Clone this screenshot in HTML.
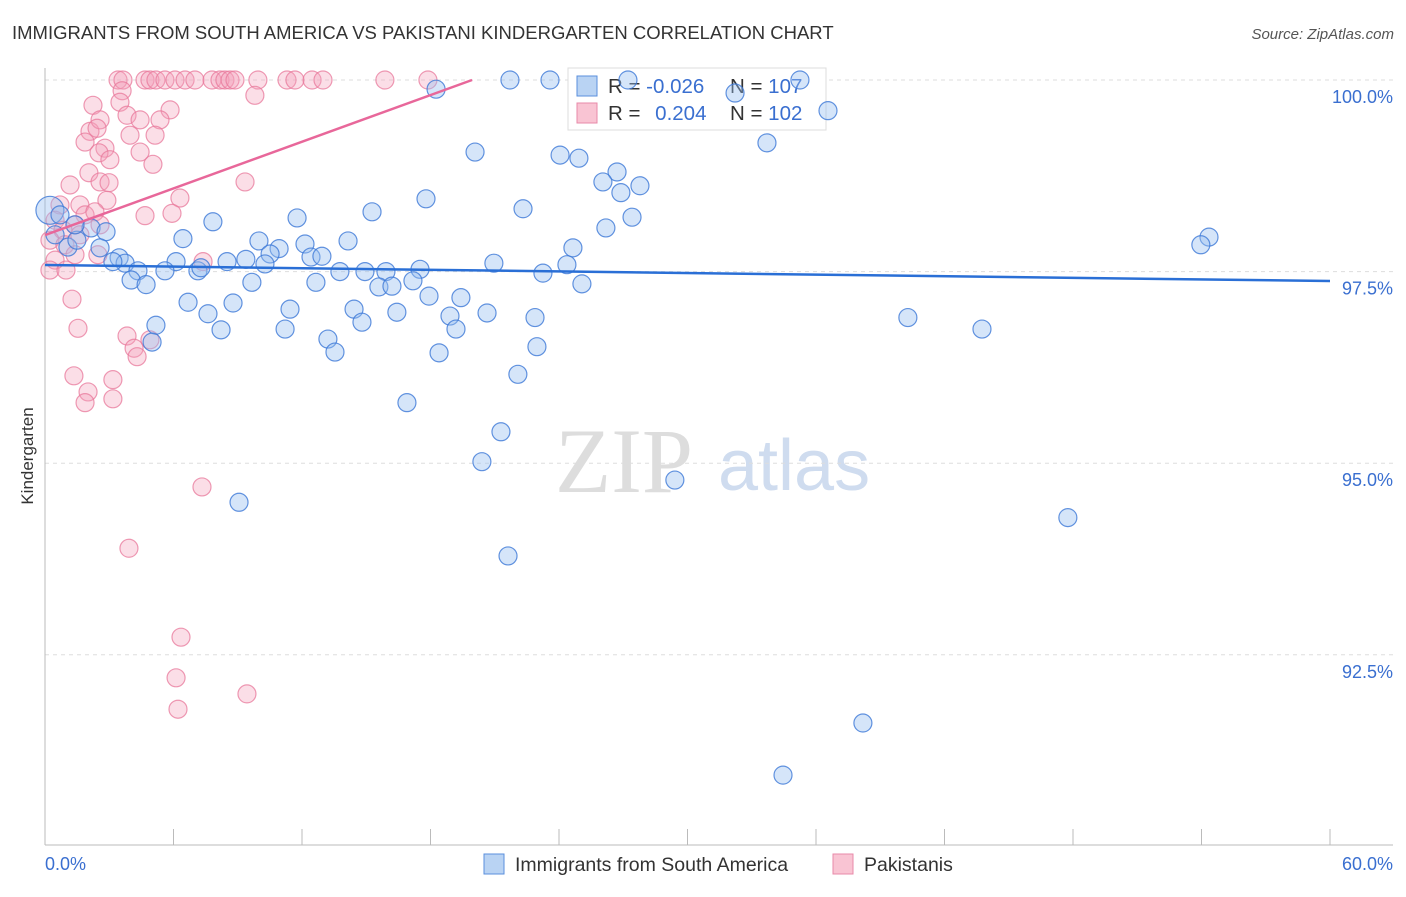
<!DOCTYPE html>
<html><head><meta charset="utf-8"><style>
body{margin:0;background:#fff;font-family:"Liberation Sans",sans-serif;}
#c{position:relative;width:1406px;height:892px;}
</style></head><body>
<div id="c">
<svg id="s" width="1406" height="892" xmlns="http://www.w3.org/2000/svg">
<text x="12" y="39" font-size="18.5" fill="#333">IMMIGRANTS FROM SOUTH AMERICA VS PAKISTANI KINDERGARTEN CORRELATION CHART</text>
<text x="1394" y="39" font-size="15" fill="#555" font-style="italic" text-anchor="end">Source: ZipAtlas.com</text>
<text x="555" y="492" font-size="92" fill="#ddd" font-family="Liberation Serif">ZIP</text>
<text x="718" y="490" font-size="72" fill="#cfdcef">atlas</text>
<g id="grid"></g><g id="axes"></g>
<g>
<rect x="568" y="68" width="258" height="62" fill="#fff" stroke="#ddd"/>
<rect x="577" y="76" width="20" height="20" fill="#b9d3f3" stroke="#5a8fdc"/>
<rect x="577" y="103" width="20" height="20" fill="#f9c4d3" stroke="#e88aa8"/>
<text x="608" y="93" font-size="20.5" fill="#333">R = <tspan fill="#3a6fd0">-0.026</tspan></text>
<text x="730" y="93" font-size="20.5" fill="#333">N = <tspan fill="#3a6fd0">107</tspan></text>
<text x="608" y="120" font-size="20.5" fill="#333">R = <tspan fill="#3a6fd0" dx="9">0.204</tspan></text>
<text x="730" y="120" font-size="20.5" fill="#333">N = <tspan fill="#3a6fd0">102</tspan></text>
</g>
<g id="pts"></g><g id="trend"></g>
<text transform="translate(33,456) rotate(-90)" font-size="17" fill="#333" text-anchor="middle">Kindergarten</text>
<g>
<rect x="484" y="854" width="20" height="20" fill="#b9d3f3" stroke="#5a8fdc"/>
<text x="515" y="871" font-size="19.5" fill="#333">Immigrants from South America</text>
<rect x="833" y="854" width="20" height="20" fill="#f9c4d3" stroke="#e88aa8"/>
<text x="864" y="871" font-size="19.5" fill="#333">Pakistanis</text>
</g>
</svg></div>
<script>
const yTicks=[100,97.5,95,92.5];
const yTickLabels=["100.0%","97.5%","95.0%","92.5%"];
const xTickLabels=["0.0%","60.0%"];
const blueX=[21.71,23.58,27.22,35.25,18.26,32.22,36.56,20.08,24.05,24.93,33.71,26.71,26.05,26.89,27.78,17.79,22.32,15.27,11.77,27.41,7.84,26.19,54.35,53.97,2.15,2.85,6.44,9.99,14.15,12.14,10.93,24.65,2.57,1.07,1.49,3.46,3.74,3.17,6.12,8.50,9.38,10.51,10.27,12.42,12.93,20.96,24.37,4.34,5.60,7.14,7.28,13.77,14.94,15.92,17.51,23.25,4.02,4.72,9.66,12.65,15.59,16.20,17.18,25.07,6.68,8.78,11.44,17.93,19.42,14.43,7.61,16.43,20.64,22.88,14.80,18.91,5.18,8.22,11.21,19.19,40.29,43.75,13.21,5.00,13.54,22.97,18.40,22.08,16.90,21.29,20.40,29.41,9.06,47.76,21.62,38.19,34.46,0.23,0.70,1.40,0.47];
const blueY=[100,100,100,100,99.88,99.83,99.60,99.06,99.02,98.98,99.18,98.80,98.67,98.53,98.62,98.45,98.32,98.28,98.20,98.21,98.15,98.07,97.95,97.85,98.07,98.02,97.93,97.90,97.90,97.86,97.80,97.81,97.81,97.82,97.91,97.68,97.61,97.63,97.63,97.63,97.66,97.73,97.60,97.69,97.70,97.61,97.59,97.51,97.51,97.51,97.55,97.50,97.50,97.50,97.53,97.48,97.39,97.33,97.36,97.36,97.30,97.31,97.38,97.34,97.10,97.09,97.01,97.18,97.16,97.01,96.95,96.97,96.96,96.90,96.84,96.92,96.80,96.74,96.75,96.75,96.90,96.75,96.62,96.58,96.45,96.52,96.44,96.16,95.79,95.41,95.02,94.78,94.49,94.29,93.79,91.61,90.93,98.30,98.24,98.11,97.98];
const pinkX=[3.41,3.64,4.67,4.90,5.18,5.60,6.07,6.54,7.00,7.80,8.17,8.40,8.64,8.87,9.94,11.30,11.67,12.47,12.98,15.87,17.88,3.60,9.80,2.24,2.10,3.50,3.83,5.84,5.37,2.57,2.43,4.44,3.97,5.14,1.87,2.80,2.52,4.44,3.03,5.04,2.05,2.57,2.99,1.17,9.34,6.30,2.89,1.63,0.70,1.87,2.33,4.67,5.93,0.47,1.40,0.84,0.23,0.93,1.63,2.57,0.47,1.40,2.47,0.23,0.98,7.38,1.26,1.54,3.83,4.16,4.30,4.90,1.35,3.17,2.01,1.87,3.17,7.33,3.92,6.35,6.12,9.43,6.21];
const pinkY=[100,100,100,100,100,100,100,100,100,100,100,100,100,100,100,100,100,100,100,100,100,99.86,99.80,99.67,99.33,99.71,99.54,99.61,99.48,99.48,99.37,99.48,99.28,99.28,99.19,99.11,99.05,99.06,98.96,98.90,98.79,98.67,98.66,98.63,98.67,98.46,98.43,98.37,98.37,98.24,98.28,98.23,98.26,98.17,98.11,98.04,97.91,97.85,97.98,98.11,97.65,97.72,97.72,97.52,97.52,97.63,97.14,96.76,96.66,96.50,96.39,96.61,96.14,96.09,95.93,95.79,95.84,94.69,93.89,92.73,92.20,91.99,91.79];
const blueTrend=[[0,97.586],[60,97.377]];
const pinkTrend=[[0,97.977],[19.94,100]];
const NS="http://www.w3.org/2000/svg";
const X=v=>45+v/60*1285, Y=v=>80+(100-v)/2.5*191.6;
function mk(t,a,p){const e=document.createElementNS(NS,t);for(const k in a)e.setAttribute(k,a[k]);document.getElementById(p).appendChild(e);return e;}
yTicks.forEach((t,i)=>{
 const l=mk('line',{x1:45,x2:1393,y1:Y(t),y2:Y(t),stroke:'#ddd','stroke-dasharray':'4,4'},'grid');
 
 
 const tx=mk('text',{x:1393,y:Y(t)+23,'font-size':18,fill:'#3a6fd0','text-anchor':'end'},'axes');
 tx.textContent=yTickLabels[i];
 
 
});
const ax=mk('line',{x1:45,x2:45,y1:68,y2:845,stroke:'#bbb'},'axes');


const bx=mk('line',{x1:45,x2:1393,y1:845,y2:845,stroke:'#bbb'},'axes');


for(let i=0;i<=10;i++){
 const tk=mk('line',{x1:X(i*6),x2:X(i*6),y1:829,y2:845,stroke:'#bbb'},'axes');
 
 
}
const xl0=mk('text',{x:45,y:870,'font-size':18,fill:'#3a6fd0'},'axes');xl0.textContent=xTickLabels[0];


const xl1=mk('text',{x:1393,y:870,'font-size':18,fill:'#3a6fd0','text-anchor':'end'},'axes');xl1.textContent=xTickLabels[1];


pinkX.forEach((v,i)=>{
 const c=mk('circle',{cx:X(v),cy:Y(pinkY[i]),r:9,fill:'rgba(244,160,186,0.35)',stroke:'rgba(232,120,155,0.75)','stroke-width':1.2},'pts');
 
 
});
blueX.forEach((v,i)=>{
 const c=mk('circle',{cx:X(v),cy:Y(blueY[i]),r:i==blueX.length-4?14:9,fill:'rgba(150,190,240,0.4)',stroke:'rgba(60,120,215,0.8)','stroke-width':1.2},'pts');
 
 
});
const bt=mk('line',{x1:X(blueTrend[0][0]),y1:Y(blueTrend[0][1]),x2:X(blueTrend[1][0]),y2:Y(blueTrend[1][1]),stroke:'#2a6fd6','stroke-width':2.5},'trend');


const pt=mk('line',{x1:X(pinkTrend[0][0]),y1:Y(pinkTrend[0][1]),x2:X(pinkTrend[1][0]),y2:Y(pinkTrend[1][1]),stroke:'#e8679a','stroke-width':2.5},'trend');


</script>
</body></html>
